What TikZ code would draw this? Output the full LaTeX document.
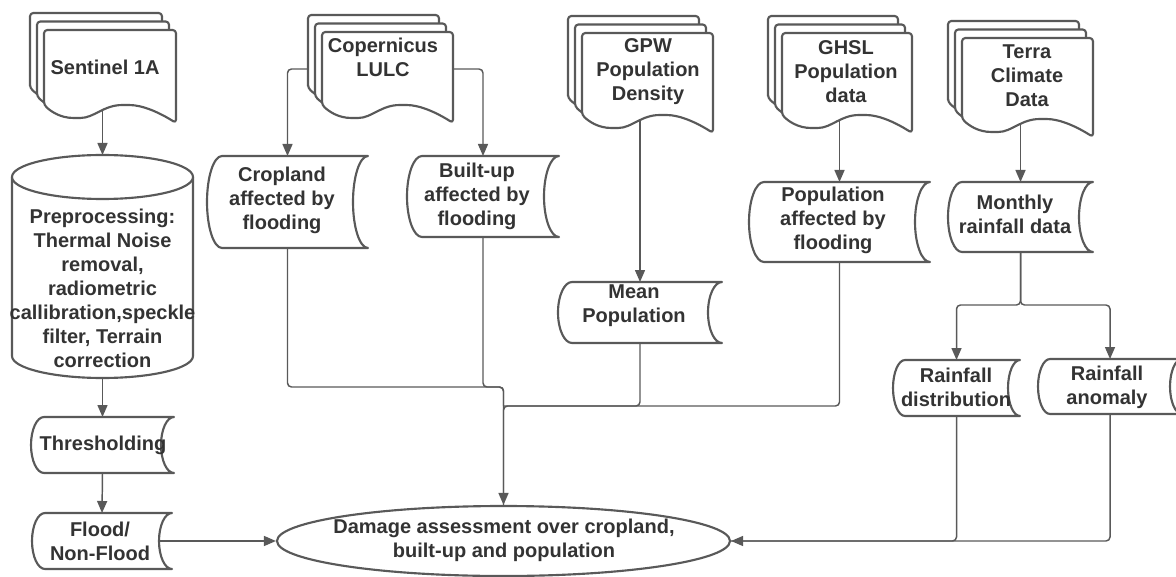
\documentclass[tikz,border=0pt]{standalone}
\usepackage{fontspec}
\setmainfont{Liberation Sans}
\usetikzlibrary{arrows.meta,shapes.geometric,calc,backgrounds}
\definecolor{ln}{HTML}{595959}
\definecolor{tx}{HTML}{333333}
\tikzset{
 shp/.style={draw=ln, line width=1.6pt, fill=white, line join=round},
 con/.style={draw=ln, line width=1.1pt, rounded corners=3pt},
 arr/.style={con, -{Triangle[length=9pt,width=7.5pt]}},
 txt/.style={text=tx, font=\fontsize{15}{18}\selectfont\bfseries, align=center, inner sep=0pt},
 anchorbox/.style={inner sep=0pt, outer sep=0pt, draw=none},
}
% stored-data shape: name, x0, x1, ytop, ybottom, depth, text, textx, texty
\newcommand\sdata[9]{%
 \pgfmathsetmacro\sdCy{(#4+#5)/2}%
 \pgfmathsetmacro\sdKy{0.552*(#5-#4)/2}%
 \pgfmathsetmacro\sdKx{0.552*#6}%
 \pgfmathsetmacro\sdXa{#2+#6}%
 \pgfmathsetmacro\sdXb{#3-#6}%
 \draw[shp] (\sdXa,#4) -- (#3,#4) .. controls (#3-\sdKx,#4) and (\sdXb,\sdCy-\sdKy) .. (\sdXb,\sdCy)
   .. controls (\sdXb,\sdCy+\sdKy) and (#3-\sdKx,#5) .. (#3,#5) -- (\sdXa,#5)
   .. controls (\sdXa-\sdKx,#5) and (#2,\sdCy+\sdKy) .. (#2,\sdCy)
   .. controls (#2,\sdCy-\sdKy) and (\sdXa-\sdKx,#4) .. (\sdXa,#4) -- cycle;
 \pgfmathsetmacro\sdWpt{(#3-#2)*0.75}%
 \pgfmathsetmacro\sdHpt{(#5-#4)*0.75}%
 \node[anchorbox, minimum width=\sdWpt pt, minimum height=\sdHpt pt] (#1) at ({(#2+#3)/2},\sdCy) {};
 \node[txt] (#1-t) at (#8,#9) {#7};
}
% document stack: name, x0, x1, ytop, yleftbottom, text, textx, texty
\newcommand\docstack[8]{%
 \pgfmathsetmacro\dsW{#3-#2}%
 \foreach \dx/\dy in {-14/-17,-7/-8.5,0/0}{%
  \draw[shp, rounded corners=2.5pt] (#2+\dx,#5+\dy) -- (#2+\dx,#4+\dy) -- (#3+\dx,#4+\dy) -- (#3+\dx,#5+18+\dy)
   .. controls (#3-0.12*\dsW+\dx,#5+8+\dy) and (#2+0.75*\dsW+\dx,#5+\dy) .. (#2+0.62*\dsW+\dx,#5+\dy)
   .. controls (#2+0.45*\dsW+\dx,#5+\dy) and (#2+0.38*\dsW+\dx,#5+13+\dy) .. (#2+0.25*\dsW+\dx,#5+13+\dy)
   .. controls (#2+0.12*\dsW+\dx,#5+13+\dy) and (#2+0.05*\dsW+\dx,#5+6+\dy) .. (#2+\dx,#5+\dy) -- cycle;
 }%
 \pgfmathsetmacro\dsWpt{(#3-#2+14)*0.75}%
 \pgfmathsetmacro\dsHpt{(#5+18-#4+17)*0.75}%
 \node[anchorbox, minimum width=\dsWpt pt, minimum height=\dsHpt pt] (#1) at ({(#2-14+#3)/2},{(#4-17+#5+18)/2}) {};
 \node[txt] (#1-t) at (#7,#8) {#6};
}
\begin{document}
\begin{tikzpicture}[x=0.75pt,y=-0.75pt]
\useasboundingbox (0,0) rectangle (1176,577);

% document stacks
\docstack{sent}{44}{176}{30}{105}{Sentinel 1A}{105}{67}
\docstack{cop}{322}{453}{32}{105}{Copernicus\\LULC}{383}{57}
\docstack{gpw}{582}{713}{33}{115}{GPW\\Population\\Density}{648}{72}
\docstack{ghsl}{782}{912}{33}{115}{GHSL\\Population\\data}{846}{72}
\docstack{terra}{962}{1093}{38}{119}{Terra\\Climate\\Data}{1027}{76}

% cylinder
\draw[shp] (12,177) -- (12,356) .. controls (12,368.1) and (52.5,378) .. (102.5,378)
  .. controls (152.5,378) and (193,368.1) .. (193,356) -- (193,177);
\draw[shp] (102.5,177) ellipse [x radius=67.875pt, y radius=16.5pt];
\node[anchorbox, minimum width=135.75pt, minimum height=167.25pt] (cyl) at (102.5,266.5) {};
\node[txt] (cyl-t) at (102.5,288) {Preprocessing:\\Thermal Noise\\removal,\\radiometric\\callibration,speckle\\filter, Terrain\\correction};

% stored data boxes
\sdata{thr}{31}{174}{417}{473}{13}{Thresholding}{103}{445}
\sdata{flood}{32}{172}{513}{569}{13}{Flood/\\Non-Flood}{100}{541}
\sdata{crop}{207}{368}{156}{248}{15}{Cropland\\affected by\\flooding}{282}{200}
\sdata{bu}{407}{559}{156}{237}{15}{Built-up\\affected by\\flooding}{477}{196}
\sdata{mean}{558}{722}{282}{343}{14}{Mean\\Population}{634}{306}
\sdata{popaff}{749}{930}{182}{262}{15}{Population\\affected by\\flooding}{833}{220}
\sdata{monthly}{948}{1093}{182}{252}{14}{Monthly\\rainfall data}{1015}{214}
\sdata{rdist}{893}{1020}{360}{416}{12}{Rainfall\\distribution}{956}{387}
\sdata{ranom}{1038}{1182}{359}{414}{12}{Rainfall\\anomaly}{1107}{387}

% final ellipse
\node[shp, ellipse, inner sep=0pt, minimum width=339.75pt, minimum height=52.5pt] (dam) at (503.5,541) {};
\node[txt] (dam-t) at (504,540) {Damage assessment over cropland,\\built-up and population};

\coordinate (j1) at (503.5,387);
\coordinate (j2) at (503.5,406);
\coordinate (j3) at (1020.5,305);

\begin{pgfonlayer}{background}
\draw[arr] (cyl.north |- sent.center) -- (cyl.north);
\draw[arr] (cyl.south) -- (thr.north);
\draw[arr] (thr.south) -- (flood.north);
\draw[arr] (flood.center) -- (dam.west);
\draw[arr] (cop.west) -| (crop.north);
\draw[arr] (cop.east) -| (bu.north);
\draw[arr] (crop.south) |- (j1) -- (dam.north);
\draw[con] (bu.south) |- (j1) -- (j2);
\draw[con] (mean.south) |- (j2) -- (dam.north);
\draw[con] (popaff.south) |- (j2);
\draw[arr] (mean.north |- gpw.center) -- (mean.north);
\draw[arr] (popaff.north |- ghsl.center) -- (popaff.north);
\draw[arr] (monthly.north |- terra.center) -- (monthly.north);
\draw[arr] (monthly.south) -- (j3) -| (rdist.north);
\draw[arr] (monthly.south) -- (j3) -| (ranom.north);
\draw[arr] (ranom.south) |- (dam.east);
\draw[con] (rdist.south) |- (dam.east);
\end{pgfonlayer}
\end{tikzpicture}
\end{document}
